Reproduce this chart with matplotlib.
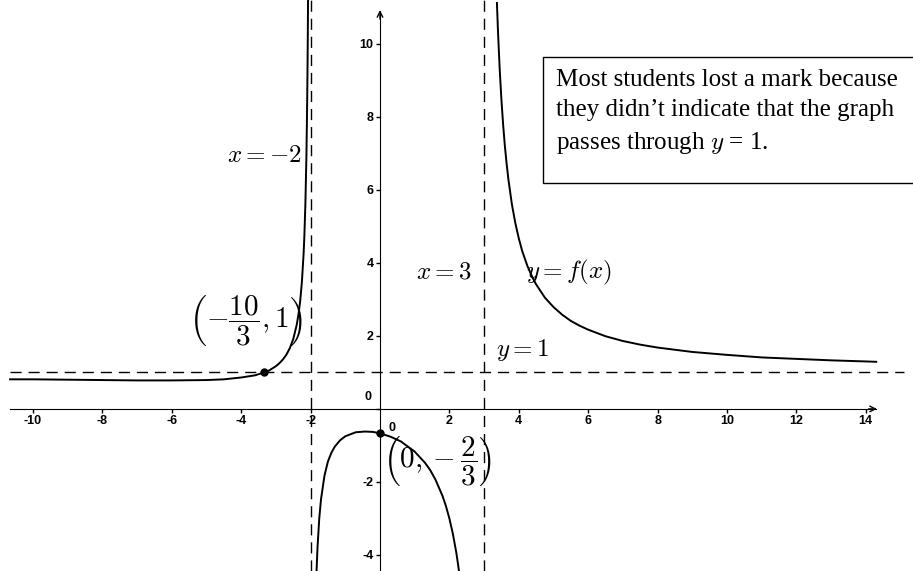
"""Sketch of y = f(x) with its asymptotes, as marked up in the exam feedback."""

import matplotlib

matplotlib.use("Agg")

import matplotlib.pyplot as plt
from matplotlib.patches import Rectangle

# Branch left of x = -2
left_x = [-10.66, -10, -9, -8, -7, -6, -5, -4.5, -4, -3.8, -3.6, -3.333, -3.2,
          -3, -2.9, -2.8, -2.7, -2.6, -2.5, -2.4, -2.35, -2.3, -2.25, -2.2,
          -2.18, -2.15, -2.12, -2.1, -2.09, -2.08, -2.07]
left_y = [0.81, 0.81, 0.80, 0.79, 0.78, 0.78, 0.79, 0.81, 0.86, 0.89, 0.92,
          1.0, 1.05, 1.17, 1.25, 1.35, 1.48, 1.66, 1.91, 2.30, 2.58, 2.95,
          3.48, 4.27, 4.71, 5.60, 6.92, 8.26, 9.14, 10.25, 11.68]

# Branch between the vertical asymptotes
mid_x = [-1.83, -1.8, -1.75, -1.7, -1.6, -1.5, -1.4, -1.3, -1.15, -1.0, -0.7,
         -0.43, -0.2, 0, 0.3, 0.6, 1.0, 1.3, 1.45, 1.6, 1.8, 1.9, 2.0, 2.1,
         2.2, 2.25, 2.3]
mid_y = [-4.49, -3.79, -3.0, -2.48, -1.83, -1.44, -1.20, -1.03, -0.86, -0.75,
         -0.64, -0.62, -0.63, -0.67, -0.76, -0.89, -1.17, -1.48, -1.68, -1.94,
         -2.38, -2.66, -3.0, -3.42, -3.94, -4.26, -4.62]

# Branch right of x = 3
right_x = [3.37, 3.4, 3.45, 3.5, 3.55, 3.6, 3.65, 3.7, 3.8, 3.9, 4.0, 4.1,
           4.25, 4.4, 4.5, 4.75, 5, 5.25, 5.5, 5.75, 6, 6.5, 7, 7.5, 8, 9, 10,
           11, 12, 13, 14, 14.3]
right_y = [11.12, 10.35, 9.30, 8.46, 7.77, 7.19, 6.71, 6.29, 5.61, 5.09, 4.67,
           4.32, 3.91, 3.59, 3.41, 3.05, 2.79, 2.58, 2.41, 2.28, 2.17, 1.99,
           1.86, 1.76, 1.68, 1.56, 1.48, 1.41, 1.37, 1.33, 1.30, 1.29]

v_asymptotes = [-2, 3]
h_asymptote = 1
points_x = [-10 / 3, 0]
points_y = [1, -2 / 3]

x_ticks = [-10, -8, -6, -4, -2, 2, 4, 6, 8, 10, 12, 14]
y_ticks = [-4, -2, 0, 2, 4, 6, 8, 10]

note = ("Most students lost a mark because\n"
        "they didn\u2019t indicate that the graph\n"
        "passes through $y$ = 1.")

plt.rcParams["mathtext.fontset"] = "cm"
plt.rcParams["axes.unicode_minus"] = False

fig = plt.figure(figsize=(9.13, 5.71), dpi=100)
ax = fig.add_axes([0, 0, 1, 1])
ax.set_xlim(-10.95, 15.36)
ax.set_ylim(-4.44, 11.2)

for s in ("top", "right"):
    ax.spines[s].set_visible(False)
ax.spines["bottom"].set_position(("data", 0))
ax.spines["left"].set_position(("data", 0))
ax.spines["bottom"].set_bounds(-10.66, 14.3)
ax.spines["left"].set_bounds(-4.44, 10.9)

ax.annotate("", xy=(14.4, 0), xytext=(14.0, 0),
            arrowprops=dict(arrowstyle="->", lw=1, color="black"))
ax.annotate("", xy=(0, 11.0), xytext=(0, 10.6),
            arrowprops=dict(arrowstyle="->", lw=1, color="black"))

tick_font = dict(family="Liberation Sans", size=9, weight="bold")
ax.set_xticks(x_ticks)
ax.set_xticklabels([str(t) for t in x_ticks], fontdict=tick_font)
ax.set_yticks(y_ticks)
ax.set_yticklabels([str(t) if t != 0 else "" for t in y_ticks], fontdict=tick_font)
ax.tick_params(axis="both", direction="out", length=3, width=1, pad=1.5)
ax.text(-0.25, 0.15, "0", ha="right", va="bottom", **tick_font)
ax.text(0.35, -0.35, "0", ha="center", va="top", **tick_font)

dash = (0, (8, 5))
for v in v_asymptotes:
    ax.axvline(v, color="black", lw=1, ls=dash)
ax.plot([-10.66, 15.1], [h_asymptote, h_asymptote], color="black", lw=1, ls=dash)

for xs, ys in ((left_x, left_y), (mid_x, mid_y), (right_x, right_y)):
    ax.plot(xs, ys, color="black", lw=1.4)
ax.plot(points_x, points_y, "o", color="black", ms=5)

ax.text(-2.25, 6.95, "$x = -2$", ha="right", va="center", fontsize=18)
ax.text(2.65, 3.75, "$x = 3$", ha="right", va="center", fontsize=18)
ax.text(4.2, 3.75, "$y = f(x)$", ha="left", va="center", fontsize=18)
ax.text(3.35, 1.6, "$y = 1$", ha="left", va="center", fontsize=18)
ax.text(-3.85, 2.4, r"$\left(-\dfrac{10}{3},1\right)$", ha="center", va="center", fontsize=21)
ax.text(1.65, -1.45, r"$\left(0,-\dfrac{2}{3}\right)$", ha="center", va="center", fontsize=21)

ax.add_patch(Rectangle((4.7, 6.19), 12, 3.45, facecolor="white",
                       edgecolor="black", lw=1, zorder=3))
ax.text(5.08, 9.3, note, ha="left", va="top", family="Liberation Serif",
        fontsize=18, linespacing=1.45, zorder=4)

fig.savefig("out.png", dpi=100)
